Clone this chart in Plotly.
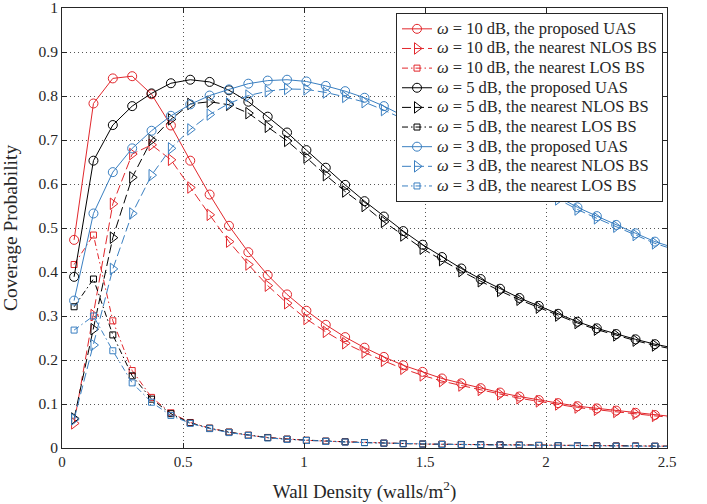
import plotly.graph_objects as go

# Wall density sample points (last point lies just beyond the axis end so lines reach the edge)
wall_density = [0.05, 0.13, 0.21, 0.29, 0.37, 0.45, 0.53, 0.61, 0.69, 0.77, 0.85, 0.93, 1.01,
                1.09, 1.17, 1.25, 1.33, 1.41, 1.49, 1.57, 1.65, 1.73, 1.81, 1.89, 1.97, 2.05,
                2.13, 2.21, 2.29, 2.37, 2.45, 2.53]

uas_10 = [0.473, 0.783, 0.840, 0.845, 0.804, 0.733, 0.653, 0.576, 0.505, 0.445, 0.393, 0.349,
          0.312, 0.280, 0.252, 0.228, 0.207, 0.188, 0.173, 0.158, 0.147, 0.136, 0.126, 0.117,
          0.109, 0.102, 0.095, 0.090, 0.085, 0.080, 0.075, 0.071]
nlos_10 = [0.056, 0.302, 0.555, 0.668, 0.689, 0.655, 0.592, 0.530, 0.469, 0.417, 0.369, 0.329,
           0.293, 0.264, 0.238, 0.217, 0.198, 0.180, 0.165, 0.152, 0.142, 0.132, 0.122, 0.113,
           0.106, 0.099, 0.092, 0.087, 0.082, 0.078, 0.073, 0.069]
los_10 = [0.417, 0.484, 0.289, 0.176, 0.115, 0.080, 0.058, 0.045, 0.036, 0.029, 0.024, 0.020,
          0.0175, 0.0155, 0.014, 0.0125, 0.011, 0.010, 0.009, 0.0085, 0.008, 0.0075, 0.007,
          0.0065, 0.006, 0.0055, 0.005, 0.005, 0.0045, 0.0045, 0.004, 0.004]

uas_5 = [0.389, 0.653, 0.734, 0.777, 0.806, 0.829, 0.837, 0.832, 0.813, 0.787, 0.753, 0.717,
         0.677, 0.637, 0.598, 0.561, 0.526, 0.493, 0.462, 0.434, 0.408, 0.384, 0.362, 0.341,
         0.323, 0.305, 0.287, 0.272, 0.259, 0.247, 0.236, 0.227]
nlos_5 = [0.067, 0.270, 0.478, 0.615, 0.700, 0.747, 0.782, 0.787, 0.780, 0.761, 0.730, 0.698,
          0.660, 0.620, 0.583, 0.550, 0.514, 0.483, 0.453, 0.427, 0.402, 0.379, 0.357, 0.337,
          0.319, 0.301, 0.284, 0.269, 0.256, 0.244, 0.233, 0.224]
los_5 = [0.321, 0.384, 0.257, 0.164, 0.111, 0.078, 0.057, 0.045, 0.036, 0.029, 0.0235, 0.020,
         0.0175, 0.0155, 0.014, 0.0125, 0.011, 0.010, 0.009, 0.0085, 0.008, 0.0075, 0.007,
         0.0065, 0.006, 0.0055, 0.005, 0.005, 0.0045, 0.0045, 0.004, 0.004]

uas_3 = [0.335, 0.533, 0.627, 0.681, 0.721, 0.755, 0.781, 0.801, 0.815, 0.828, 0.835, 0.837,
         0.833, 0.823, 0.811, 0.796, 0.777, 0.755, 0.733, 0.711, 0.689, 0.666, 0.643, 0.619,
         0.595, 0.570, 0.547, 0.527, 0.507, 0.488, 0.469, 0.455]
nlos_3 = [0.065, 0.234, 0.407, 0.533, 0.620, 0.681, 0.724, 0.758, 0.783, 0.801, 0.811, 0.816,
          0.815, 0.808, 0.798, 0.786, 0.768, 0.748, 0.727, 0.705, 0.683, 0.660, 0.637, 0.613,
          0.589, 0.565, 0.542, 0.522, 0.503, 0.484, 0.465, 0.451]
los_3 = [0.268, 0.300, 0.221, 0.148, 0.104, 0.074, 0.056, 0.044, 0.035, 0.0285, 0.023, 0.0195,
         0.017, 0.015, 0.0135, 0.012, 0.011, 0.0095, 0.009, 0.008, 0.0075, 0.007, 0.0065, 0.006,
         0.0055, 0.005, 0.005, 0.0045, 0.004, 0.004, 0.004, 0.0035]

x_ticks = [0, 0.5, 1, 1.5, 2, 2.5]
y_ticks = [0, 0.1, 0.2, 0.3, 0.4, 0.5, 0.6, 0.7, 0.8, 0.9, 1]

RED = "#E2272C"
BLACK = "#000000"
BLUE = "#3A7FC1"
FONT = "Liberation Serif, Times New Roman, serif"

series = [
    ("10", "the proposed UAS", uas_10, RED, "solid", "circle-open", 9),
    ("10", "the nearest NLOS BS", nlos_10, RED, "9px,4px", "triangle-right-open", 10),
    ("10", "the nearest LOS BS", los_10, RED, "6px,3px,1.5px,3px", "square-open", 6),
    ("5", "the proposed UAS", uas_5, BLACK, "solid", "circle-open", 9),
    ("5", "the nearest NLOS BS", nlos_5, BLACK, "9px,4px", "triangle-right-open", 10),
    ("5", "the nearest LOS BS", los_5, BLACK, "6px,3px,1.5px,3px", "square-open", 6),
    ("3", "the proposed UAS", uas_3, BLUE, "solid", "circle-open", 9),
    ("3", "the nearest NLOS BS", nlos_3, BLUE, "9px,4px", "triangle-right-open", 10),
    ("3", "the nearest LOS BS", los_3, BLUE, "6px,3px,1.5px,3px", "square-open", 6),
]

fig = go.Figure()
for w, label, ys, col, dash, sym, size in series:
    fig.add_trace(go.Scatter(
        x=wall_density, y=ys, mode="lines+markers",
        name=f"<span style='font-size:16.5px'><i>ω</i> = {w} dB, {label}</span>",
        line=dict(color=col, width=1, dash=dash),
        marker=dict(symbol=sym, size=size, color=col, line=dict(width=1, color=col)),
        cliponaxis=True,
    ))

axis_common = dict(
    showline=True, linecolor="#262626", linewidth=1, mirror="ticks",
    ticks="inside", ticklen=5, tickcolor="#262626",
    showgrid=True, gridcolor="#555555", griddash="1px,3px", gridwidth=1,
    zeroline=False, automargin=False, ticklabeloverflow="allow",
)

fig.update_layout(
    width=707, height=504,
    margin=dict(l=62, r=40, t=8, b=56),
    paper_bgcolor="white", plot_bgcolor="white",
    font=dict(family=FONT, size=15, color="#262626"),
    xaxis=dict(range=[0, 2.5], tickvals=x_ticks, ticktext=[str(v) for v in x_ticks],
               tickfont=dict(family=FONT, size=15, color="#262626"),
               title=dict(text="Wall Density (walls/m<sup>2</sup>)", font=dict(family=FONT, size=19)),
               **axis_common),
    yaxis=dict(range=[0, 1], tickvals=y_ticks, ticktext=[str(v) for v in y_ticks],
               tickfont=dict(family=FONT, size=15.5, color="#262626"),
               title=dict(text="Coverage Probability", font=dict(family=FONT, size=19.5)),
               **axis_common),
    legend=dict(x=0.9934, y=0.9886, xanchor="right", yanchor="top",
                bgcolor="white", bordercolor="#262626", borderwidth=1,
                font=dict(family=FONT, size=12.8, color="#262626"),
                tracegroupgap=0, itemwidth=30),
    showlegend=True,
)

fig.write_html("out.html", config={"displayModeBar": False},
               post_script="document.body.style.margin='0px';")
